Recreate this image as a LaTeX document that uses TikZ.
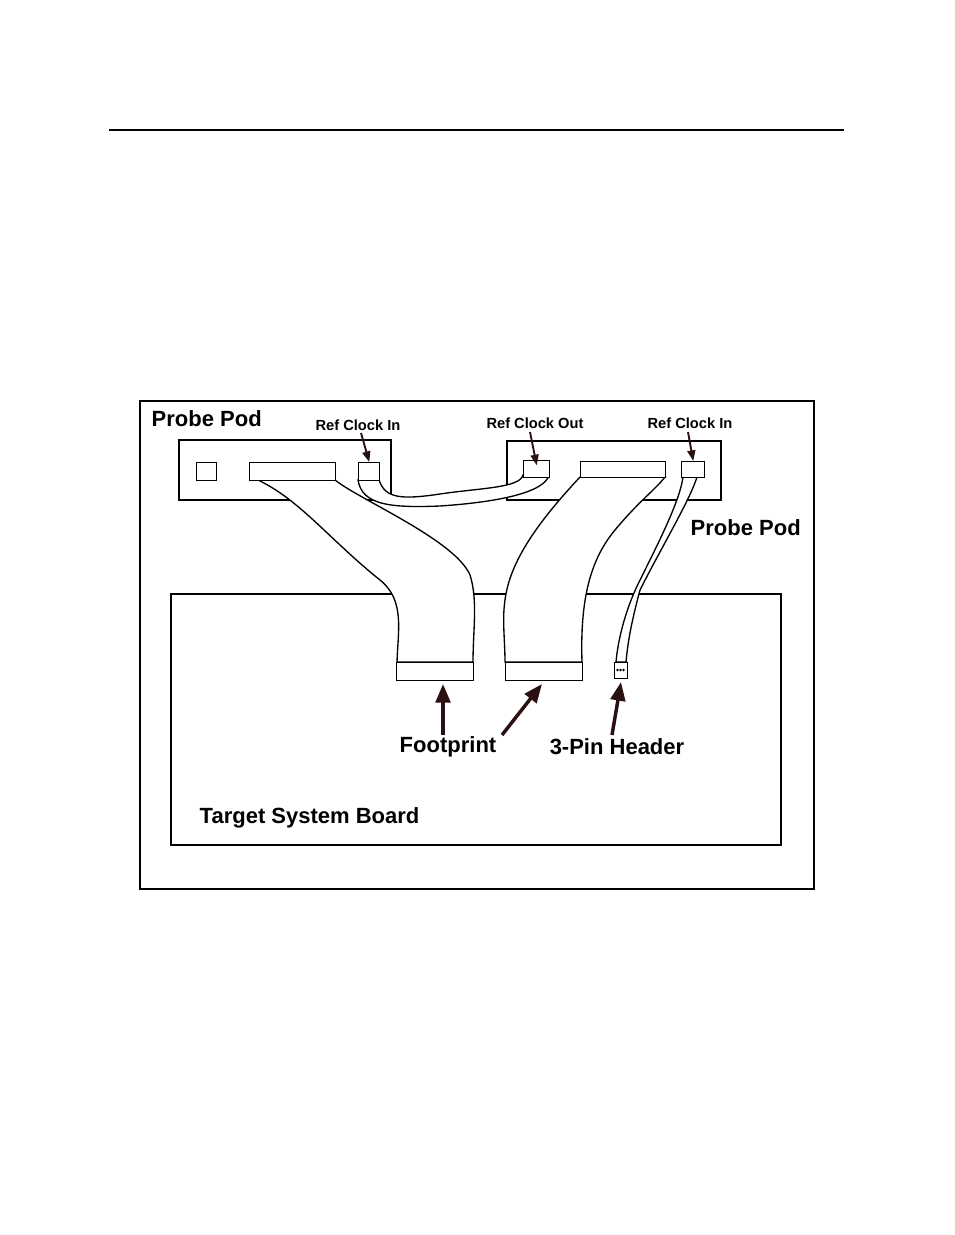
\documentclass[tikz,border=0pt]{standalone}
\usepackage{fontspec}
\setmainfont{Liberation Sans}
\usetikzlibrary{arrows.meta}
\definecolor{arr}{HTML}{2A1010}
\begin{document}
\begin{tikzpicture}[x=0.75pt,y=-0.75pt,line width=1.1pt,
  big/.style={font=\bfseries\fontsize{16.5}{19}\selectfont,inner sep=0pt},
  small/.style={font=\bfseries\fontsize{11}{13}\selectfont,inner sep=0pt},
  part/.style={draw,fill=white,line width=1.1pt},
  cable/.style={draw,fill=white,line width=1pt},
  ptr/.style={draw=arr,line width=2.6pt,-{Triangle[length=14pt,width=11pt]}},
  sptr/.style={draw=arr,line width=1.4pt,-{Triangle[length=8pt,width=6pt]}}]
\useasboundingbox (0,0) rectangle (954,1235);
\draw[line width=0.8pt] (109,130) -- (844,130);
\draw[line width=0.8pt] (140,401) rectangle (814,889);
% board
\draw[part] (171,594) rectangle (781,845);
% pods
\draw[part] (179,440) rectangle (391,500);
\draw[part] (507,441) rectangle (721,500);
% cables
\draw[cable] (258,480) .. controls (300,500) and (330,540) .. (380,580) .. controls (405,600) and (398,630) .. (397,662) -- (473,662) .. controls (473,630) and (478,600) .. (470,575) .. controls (455,540) and (360,500) .. (335,480) -- cycle;
\draw[cable] (580,477) .. controls (540,520) and (510,560) .. (505,600) .. controls (502,620) and (505,640) .. (505,662) -- (582,662) .. controls (580,600) and (590,560) .. (615,530) .. controls (640,500) and (655,490) .. (665,477) -- cycle;
\draw[cable] (683,477) .. controls (680,500) and (660,540) .. (640,580) .. controls (625,610) and (618,640) .. (616,662) -- (626,662) .. controls (628,640) and (632,620) .. (640,590) .. controls (660,550) and (690,500) .. (697,477) -- cycle;
\draw[cable] (358,480) .. controls (362,505) and (390,508) .. (440,506) .. controls (500,502) and (545,492) .. (549,475) -- (523,475) .. controls (520,488) and (480,488) .. (440,494) .. controls (400,500) and (385,498) .. (379,480) -- cycle;
% connectors
\node[part,inner sep=0pt,anchor=north west,minimum width=15pt,minimum height=13.5pt] (sq) at (196,462) {};
\node[part,inner sep=0pt,anchor=north west,minimum width=64.5pt,minimum height=13.5pt] (c1) at (249,462) {};
\node[part,inner sep=0pt,anchor=north west,minimum width=15.75pt,minimum height=13.5pt] (rin1) at (358,462) {};
\node[part,inner sep=0pt,anchor=north west,minimum width=19.5pt,minimum height=12.75pt] (rout) at (523,460) {};
\node[part,inner sep=0pt,anchor=north west,minimum width=63.75pt,minimum height=12pt] (c2) at (580,461) {};
\node[part,inner sep=0pt,anchor=north west,minimum width=17.25pt,minimum height=12pt] (rin2) at (681,461) {};
\node[part,inner sep=0pt,anchor=north west,minimum width=57.75pt,minimum height=13.5pt] (f1) at (396,662) {};
\node[part,inner sep=0pt,anchor=north west,minimum width=57.75pt,minimum height=13.5pt] (f2) at (505,662) {};
\node[part,inner sep=0pt,anchor=north west,minimum width=9.75pt,minimum height=12pt] (hd) at (614,662) {};
\fill (617.5,670) circle (1pt) (620.5,670) circle (1pt) (623.5,670) circle (1pt);
% labels
\node[big,anchor=west] (pp1) at (151,419) {Probe Pod};
\node[big,anchor=west] (pp2) at (690,528) {Probe Pod};
\node[small] (l1) at (358,425) {Ref Clock In};
\node[small] (l2) at (535,423) {Ref Clock Out};
\node[small] (l3) at (690,423) {Ref Clock In};
\node[big] (fp) at (448,747) {Footprint};
\node[big] (ph) at (617,747) {3-Pin Header};
\node[big,anchor=west] (tb) at (199,818) {Target System Board};
% arrows
\coordinate (a1) at (361,433); \draw[sptr] (a1) -- (rin1.north);
\coordinate (a2) at (530,432); \draw[sptr] (a2) -- ([yshift=-4pt]rout.north);
\coordinate (a3) at (688,432); \draw[sptr] (a3) -- (rin2.north);
\coordinate (b1) at (443,735); \draw[ptr] (b1) -- (443,684);
\coordinate (b2) at (502,735); \draw[ptr] (b2) -- (542,684);
\coordinate (b3) at (612,735); \draw[ptr] (b3) -- (621,682);
\end{tikzpicture}
\end{document}
